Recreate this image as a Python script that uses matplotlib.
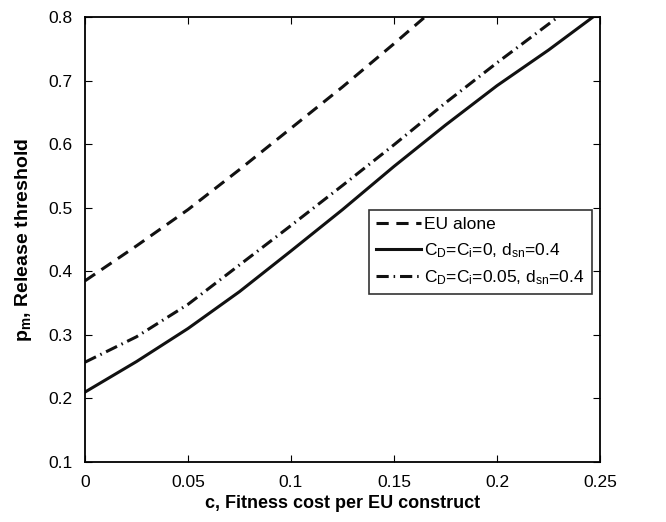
import matplotlib
matplotlib.use("Agg")
import matplotlib.pyplot as plt

plt.rcParams["font.family"] = ["Liberation Sans", "DejaVu Sans"]
plt.rcParams["mathtext.fontset"] = "custom"
plt.rcParams["mathtext.rm"] = "Liberation Sans"
plt.rcParams["mathtext.bf"] = "Liberation Sans:bold"
plt.rcParams["mathtext.default"] = "regular"

# ---------------- DATA ---------------- #
c_eu = [0.0, 0.025, 0.05, 0.075, 0.1, 0.125, 0.15, 0.165]
p_eu = [0.385, 0.44, 0.497, 0.56, 0.625, 0.69, 0.758, 0.80]

c_solid = [0.0, 0.025, 0.05, 0.075, 0.1, 0.125, 0.15, 0.175, 0.2, 0.225, 0.2466]
p_solid = [0.21, 0.258, 0.31, 0.368, 0.432, 0.497, 0.565, 0.63, 0.692, 0.748, 0.80]

c_dd = [0.0, 0.025, 0.05, 0.075, 0.1, 0.125, 0.15, 0.175, 0.2, 0.2296]
p_dd = [0.257, 0.297, 0.348, 0.41, 0.472, 0.535, 0.599, 0.665, 0.728, 0.80]

xticks = [0, 0.05, 0.1, 0.15, 0.2, 0.25]
xtick_labels = ["0", "0.05", "0.1", "0.15", "0.2", "0.25"]
yticks = [0.1, 0.2, 0.3, 0.4, 0.5, 0.6, 0.7, 0.8]

# ---------------- PLOT ---------------- #
fig = plt.figure(figsize=(6.66, 5.22), dpi=100)
ax = fig.add_axes([0.1276, 0.1149, 0.7733, 0.8525])

ax.plot(c_eu, p_eu, color="#111111", lw=2.2, dashes=(4, 2.5), label="EU alone")
ax.plot(c_solid, p_solid, color="#111111", lw=2.2, label=r"$C_D$=$C_i$=0, $d_{sn}$=0.4")
ax.plot(c_dd, p_dd, color="#111111", lw=2.2, dashes=(4, 1.6, 0.5, 1.6),
        label=r"$C_D$=$C_i$=0.05, $d_{sn}$=0.4")

ax.set_xlim(0, 0.25)
ax.set_ylim(0.1, 0.8)
ax.set_xticks(xticks)
ax.set_xticklabels(xtick_labels)
ax.set_yticks(yticks)
ax.tick_params(direction="in", top=True, right=True, labelsize=12.5, length=5, pad=9)
for s in ax.spines.values():
    s.set_linewidth(1.3)

ax.set_xlabel("c, Fitness cost per EU construct", fontsize=13, fontweight="bold", labelpad=4)
ax.set_ylabel(r"$\mathbf{p_m}$, Release threshold", fontsize=14, fontweight="bold", labelpad=10)

leg = ax.legend(loc="upper right", bbox_to_anchor=(0.984, 0.566), fontsize=12.5,
                frameon=True, fancybox=False, edgecolor="black",
                handlelength=2.6, handletextpad=0.2, borderpad=0.4,
                labelspacing=0.5, borderaxespad=0)
leg.get_frame().set_linewidth(1.2)

plt.savefig("out.png", dpi=100)
plt.close()
